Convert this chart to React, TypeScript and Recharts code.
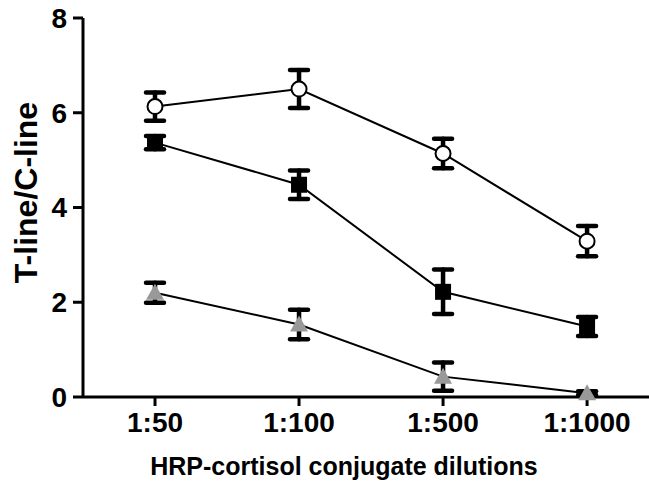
import React from 'react';
import { LineChart, Line, XAxis, YAxis, ErrorBar, Label } from 'recharts';

const dilutions = ['1:50', '1:100', '1:500', '1:1000'];

const openCircle = [6.13, 6.5, 5.14, 3.29];
const openCircleErr = [0.3, 0.4, 0.31, 0.32];

const filledSquare = [5.37, 4.48, 2.22, 1.49];
const filledSquareErr = [0.14, 0.3, 0.47, 0.2];

const grayTriangle = [2.2, 1.53, 0.43, 0.08];
const grayTriangleErr = [0.21, 0.31, 0.3, 0.04];

const yTicks = [0, 2, 4, 6, 8];

const data = dilutions.map((name, i) => ({
  x: i,
  name,
  circle: openCircle[i],
  circleErr: openCircleErr[i],
  square: filledSquare[i],
  squareErr: filledSquareErr[i],
  tri: grayTriangle[i],
  triErr: grayTriangleErr[i],
}));

const font = '"Liberation Sans", Arial, sans-serif';
const tickStyle = { fill: '#000', fontSize: 28, fontWeight: 'bold', fontFamily: font };

const CircleDot = (props: any) => {
  const { cx, cy } = props;
  if (cx == null || cy == null) return null;
  return <circle cx={cx} cy={cy} r={7.5} fill="#fff" stroke="#000" strokeWidth={2} />;
};

const SquareDot = (props: any) => {
  const { cx, cy } = props;
  if (cx == null || cy == null) return null;
  return <rect x={cx - 8} y={cy - 8} width={16} height={16} fill="#000" />;
};

const TriangleDot = (props: any) => {
  const { cx, cy } = props;
  if (cx == null || cy == null) return null;
  return <polygon points={`${cx},${cy - 9} ${cx - 9},${cy + 7} ${cx + 9},${cy + 7}`} fill="#999" />;
};

const XTitle = (props: any) => {
  const vb = props.viewBox;
  const x = vb.x + vb.width / 2 - 22;
  return (
    <text x={x} y={475} textAnchor="middle" fill="#000" fontSize={25} fontWeight="bold" fontFamily={font}>
      HRP-cortisol conjugate dilutions
    </text>
  );
};

const YTitle = (props: any) => {
  const vb = props.viewBox;
  const x = 37;
  const y = vb.y + vb.height / 2 - 15;
  return (
    <text x={x} y={y} transform={`rotate(-90, ${x}, ${y})`} textAnchor="middle" fill="#000" fontSize={32} fontWeight="bold" fontFamily={font}>
      T-line/C-line
    </text>
  );
};

const errProps = { width: 9, strokeWidth: 4.5, stroke: '#000', direction: 'y' as const, strokeLinecap: 'round' as const };

export default function App() {
  return (
    <div style={{ position: 'absolute', left: 0, top: 0, background: '#fff' }}>
      <LineChart width={649} height={483} data={data} margin={{ top: 18, right: 0, bottom: 0, left: 0 }}>
        <XAxis
          dataKey="x"
          type="number"
          domain={[-0.5, 3.43]}
          ticks={[0, 1, 2, 3]}
          allowDataOverflow
          tickFormatter={(v: number) => dilutions[v]}
          height={86}
          tick={tickStyle}
          tickSize={9}
          tickMargin={6}
          axisLine={{ stroke: '#000', strokeWidth: 3 }}
          tickLine={{ stroke: '#000', strokeWidth: 3 }}
        >
          <Label content={<XTitle />} />
        </XAxis>
        <YAxis
          domain={[0, 8]}
          ticks={yTicks}
          width={83}
          tick={tickStyle}
          tickSize={10}
          tickMargin={6}
          axisLine={{ stroke: '#000', strokeWidth: 3 }}
          tickLine={{ stroke: '#000', strokeWidth: 3 }}
        >
          <Label content={<YTitle />} />
        </YAxis>
        <Line dataKey="circle" stroke="#000" strokeWidth={2} dot={<CircleDot />} activeDot={false} isAnimationActive={false}>
          <ErrorBar dataKey="circleErr" {...errProps} />
        </Line>
        <Line dataKey="square" stroke="#000" strokeWidth={2} dot={<SquareDot />} activeDot={false} isAnimationActive={false}>
          <ErrorBar dataKey="squareErr" {...errProps} />
        </Line>
        <Line dataKey="tri" stroke="#000" strokeWidth={2} dot={<TriangleDot />} activeDot={false} isAnimationActive={false}>
          <ErrorBar dataKey="triErr" {...errProps} />
        </Line>
      </LineChart>
    </div>
  );
}
